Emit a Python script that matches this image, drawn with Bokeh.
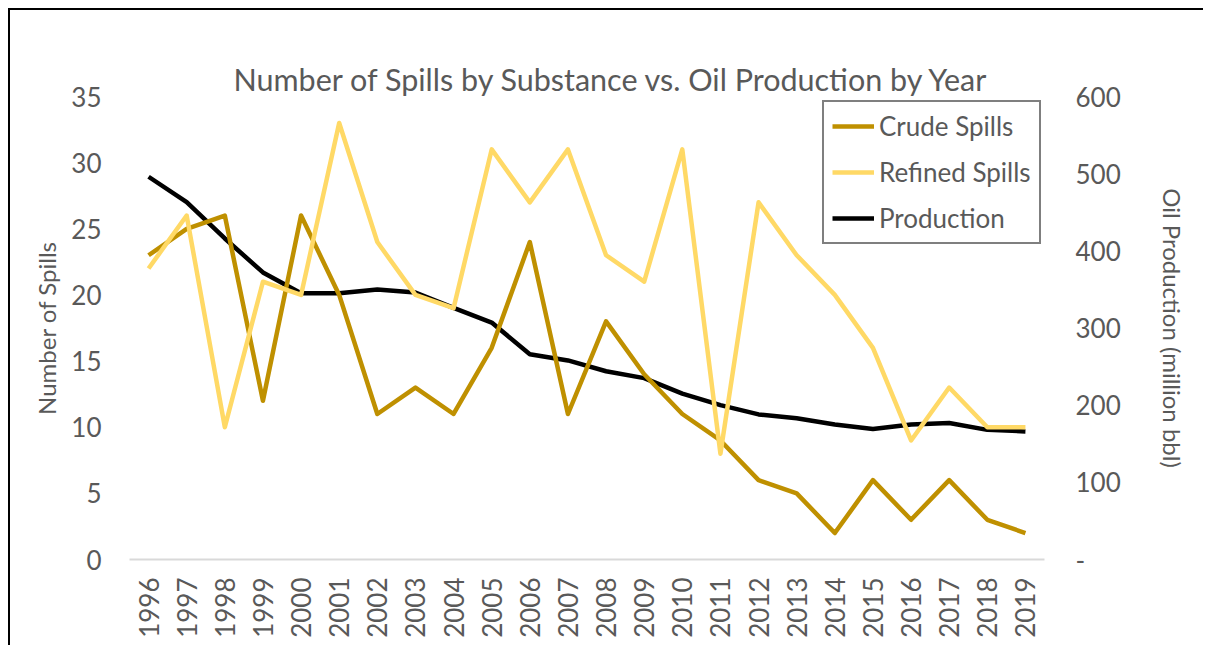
import math
from bokeh.plotting import figure
from bokeh.models import Range1d, LinearAxis, FixedTicker, Legend, LegendItem, FactorRange, Title
from bokeh.embed import file_html
from bokeh.resources import INLINE

years = ["1996", "1997", "1998", "1999", "2000", "2001", "2002", "2003", "2004", "2005", "2006", "2007",
         "2008", "2009", "2010", "2011", "2012", "2013", "2014", "2015", "2016", "2017", "2018", "2019"]
crude = [23, 25, 26, 12, 26, 20, 11, 13, 11, 16, 24, 11, 18, 14, 11, 9, 6, 5, 2, 6, 3, 6, 3, 2]
refined = [22, 26, 10, 21, 20, 33, 24, 20, 19, 31, 27, 31, 23, 21, 31, 8, 27, 23, 20, 16, 9, 13, 10, 10]
production = [496, 463, 416, 372, 345, 345, 350, 346, 326, 307, 266, 258, 244, 235, 215, 200, 188, 183,
              175, 169, 175, 177, 168, 166]
left_ticks = [0, 5, 10, 15, 20, 25, 30, 35]
right_ticks = [0, 100, 200, 300, 400, 500, 600]
title_text = "Number of Spills by Substance vs. Oil Production by Year"

FONT = "Lato"
TXT = "#595959"

p = figure(width=1195, height=637, x_range=FactorRange(*years), y_range=Range1d(0, 35),
           output_backend="svg", toolbar_location=None,
           min_border_left=119, min_border_right=161, min_border_top=86, min_border_bottom=88)
p.styles = {"margin-left": "10px", "margin-top": "10px", "box-shadow": "-2px -2px 0px 0px black"}
p.outline_line_color = None
p.xgrid.visible = False
p.ygrid.visible = False

p.title.text = title_text
p.title.align = "left"
p.title.offset = 104
p.title.standoff = 0
p.title.text_font = FONT
p.title.text_font_size = "30.5px"
p.title.text_font_style = "normal"
p.title.text_color = TXT

# invisible spacer between the title and the plot frame
spacer = Title(text=" ", text_font_size="2px", text_alpha=0, standoff=25)
p.add_layout(spacer, "above")

p.extra_y_ranges = {"prod": Range1d(0, 600)}
right = LinearAxis(y_range_name="prod", ticker=FixedTicker(ticks=right_ticks),
                   axis_label="Oil Production (million bbl)")
right.major_label_overrides = {0: "-"}
p.add_layout(right, "right")

p.yaxis[0].ticker = FixedTicker(ticks=left_ticks)
p.yaxis[0].axis_label = "Number of Spills"

for ax in [p.yaxis[0], right]:
    ax.axis_line_color = None
    ax.major_tick_line_color = None
    ax.minor_tick_line_color = None
    ax.major_tick_out = 0
    ax.major_tick_in = 0
    ax.major_label_text_font = FONT
    ax.major_label_text_font_size = "26px"
    ax.major_label_text_color = TXT
    ax.axis_label_text_font = FONT
    ax.axis_label_text_font_size = "24px"
    ax.axis_label_text_font_style = "normal"
    ax.axis_label_text_color = TXT
p.yaxis[0].major_label_standoff = 28
p.yaxis[0].axis_label_standoff = 7
right.major_label_standoff = 31
right.axis_label_standoff = 34

xa = p.xaxis[0]
xa.axis_line_color = "#D9D9D9"
xa.axis_line_width = 2
xa.major_tick_line_color = None
xa.minor_tick_line_color = None
xa.major_tick_out = 0
xa.major_tick_in = 0
xa.major_label_orientation = math.pi / 2
xa.major_label_standoff = 18
xa.major_label_text_font = FONT
xa.major_label_text_font_size = "26px"
xa.major_label_text_color = TXT

r_p = p.line(years, production, y_range_name="prod", line_color="black", line_width=4.5, line_join="round")
r_c = p.line(years, crude, line_color="#BF9000", line_width=4.5, line_join="round")
r_r = p.line(years, refined, line_color="#FFD966", line_width=4.5, line_join="round")

legend = Legend(items=[LegendItem(label="Crude Spills", renderers=[r_c]),
                       LegendItem(label="Refined Spills", renderers=[r_r]),
                       LegendItem(label="Production", renderers=[r_p])],
                location=(693, 315))
legend.border_line_color = "black"
legend.border_line_width = 2
legend.background_fill_color = "white"
legend.background_fill_alpha = 1
legend.label_text_font = FONT
legend.label_text_font_size = "26px"
legend.label_text_color = TXT
legend.glyph_width = 42
legend.glyph_height = 30
legend.label_height = 30
legend.label_standoff = 5
legend.spacing = 14
legend.padding = 8
legend.margin = 0
p.add_layout(legend, "center")

open("out.html", "w").write(file_html(p, INLINE))
